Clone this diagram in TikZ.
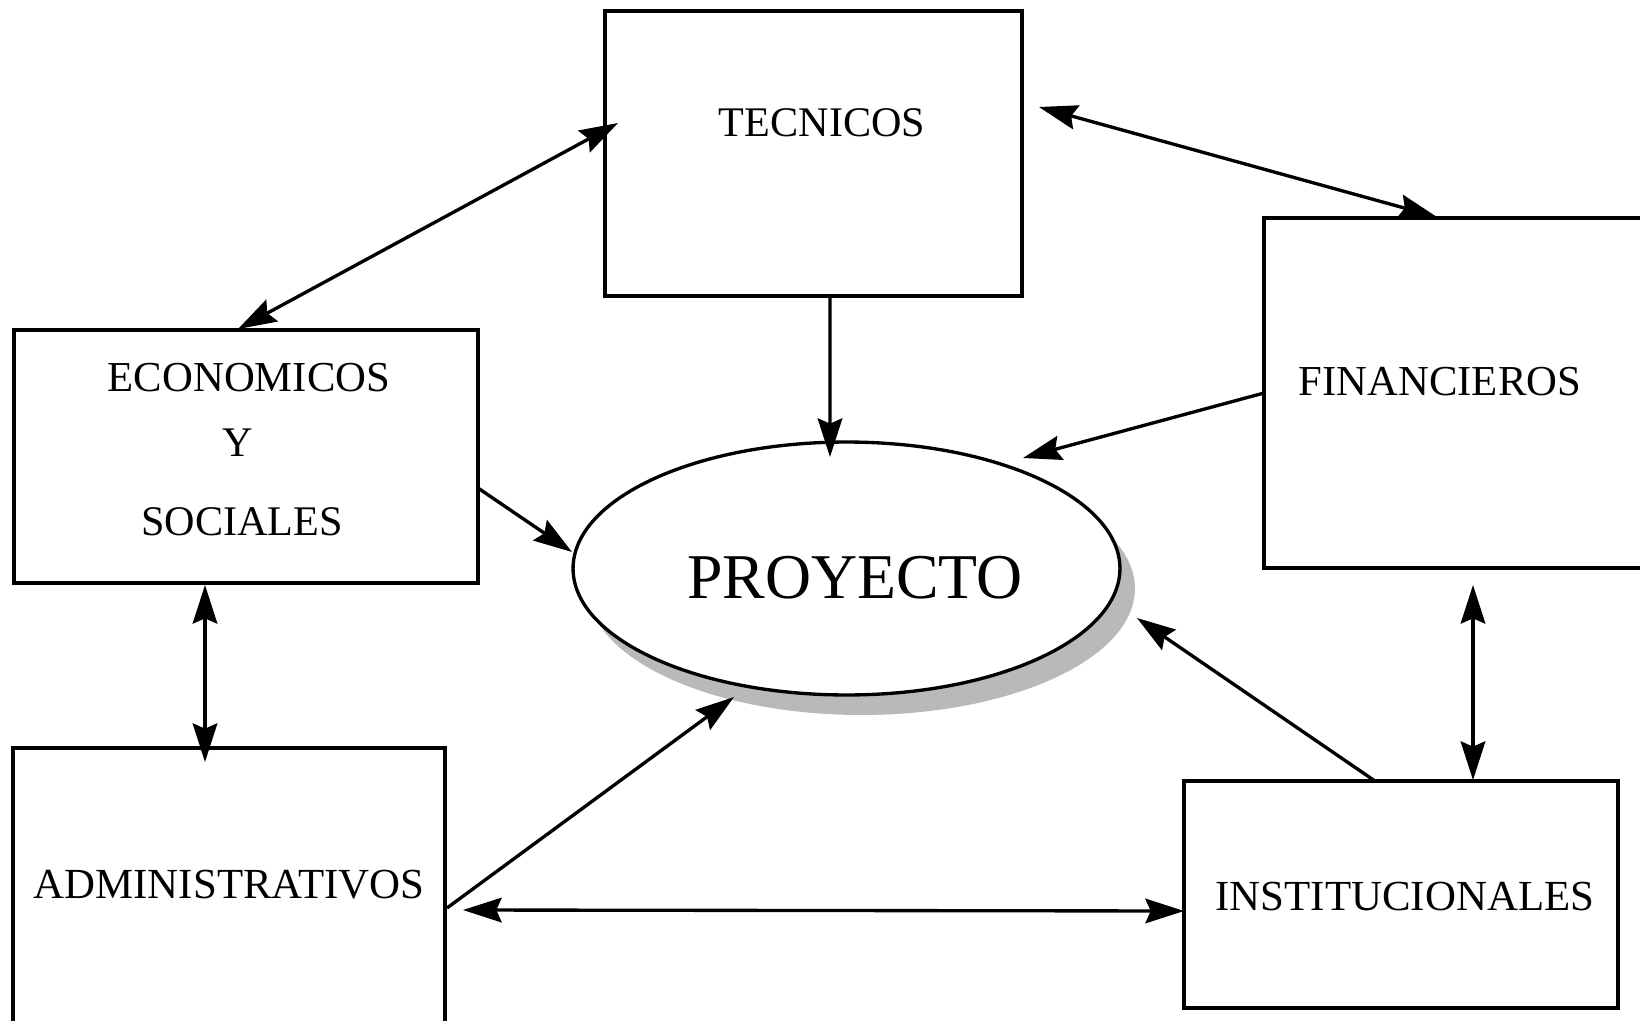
\documentclass[tikz,border=0pt]{standalone}
\usepackage{fontspec}
\setmainfont{Liberation Serif}
\usetikzlibrary{arrows.meta,calc,shapes.geometric}
\begin{document}
\begin{tikzpicture}[x=0.02cm,y=-0.02cm,
  box/.style={draw, rectangle, line width=1.9pt, inner sep=0pt, outer sep=0pt},
  lbl/.style={inner sep=0pt, font=\fontsize{24}{28}\selectfont},
  tipA/.tip={Stealth[length=22pt,width=14pt,inset=3pt]},
  arr/.style={line width=1.9pt, -tipA},
  darr/.style={line width=1.9pt, tipA-tipA},
  shadowfill/.style={fill=gray!55, draw=none}
]
\useasboundingbox (0,0) rectangle (1640,1021);
\clip (0,0) rectangle (1640,1021);

% boxes
\node[box, minimum width=8.34cm, minimum height=5.70cm] (tec) at (813.5,153.5) {};
\node[box, minimum width=8.72cm, minimum height=7.00cm] (fin) at (1482,393) {};
\node[box, minimum width=9.28cm, minimum height=5.06cm] (eco) at (246,456.5) {};
\node[box, minimum width=8.64cm, minimum height=7.04cm] (adm) at (229,924) {};
\node[box, minimum width=8.68cm, minimum height=4.54cm] (ins) at (1401,894.5) {};

% ellipse with shadow
\fill[shadowfill] (861.5,588.5) ellipse [x radius=5.47cm, y radius=2.53cm];
\node[ellipse, draw, fill=white, line width=1.9pt, inner sep=0pt, outer sep=0pt,
      minimum width=10.94cm, minimum height=5.06cm] (proj) at (846.5,568.5) {};

% texts
\node[lbl] (tecT) at (822,123) {TECNICOS};
\node[lbl, font=\fontsize{24.3}{28}\selectfont] (finT) at (1440,382) {FINANCIEROS};
\node[lbl, font=\fontsize{24.3}{28}\selectfont] (ecoT1) at (249,378) {ECONOMICOS};
\node[lbl] (ecoT2) at (238,443) {Y};
\node[lbl] (ecoT3) at (242,522) {SOCIALES};
\node[lbl, font=\fontsize{24.4}{28}\selectfont] (admT) at (229,885) {ADMINISTRATIVOS};
\node[lbl, font=\fontsize{24.4}{28}\selectfont] (insT) at (1405,897) {INSTITUCIONALES};
\node[inner sep=0pt, font=\fontsize{36.3}{40}\selectfont] (projT) at (855,578) {PROYECTO};

% connectors
\draw[darr] ($(tec.west)+(13,-30.5)$) -- ($(eco.north)+(-8,-1)$);
\draw[darr] ($(tec.east)+(17,-46.5)$) -- ($(fin.north)+(-45,-1)$);
\draw[arr] ($(tec.south)+(16.5,0)$) -- ($(proj.north)+(-16.5,15)$);
\draw[arr] (fin.west) -- ($(proj.center)+(176.5,-110.5)$);
\draw[arr] ($(eco.east)+(0,31.5)$) -- ($(proj.west)+(-1,-16.5)$);
\draw[darr] ($(eco.south)+(-41,2)$) -- ($(adm.north)+(-24,14)$);
\draw[arr] ($(adm.east)+(2,-16)$) -- ($(proj.south)+(-112.5,2)$);
\draw[darr] ($(adm.east)+(18,-14)$) -- ($(ins.west)+(0,16.5)$);
\draw[arr] ($(ins.north)+(-26,0)$) -- ($(proj.center)+(290.5,49.5)$);
\draw[darr] ($(fin.south)+(-9,17)$) -- ($(ins.north)+(72,-1)$);
\end{tikzpicture}
\end{document}
